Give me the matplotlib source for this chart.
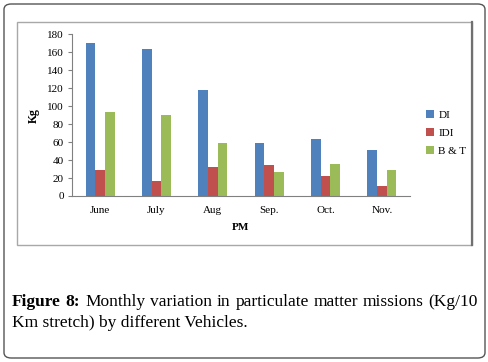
import matplotlib
matplotlib.use("Agg")
import matplotlib.pyplot as plt
from matplotlib.patches import FancyBboxPatch, Rectangle
import numpy as np

months = ["June", "July", "Aug", "Sep.", "Oct.", "Nov."]
DI = [170, 164, 118, 59, 64, 51]
IDI = [29, 17, 32, 35, 22, 11]
BT = [93, 90, 59, 27, 36, 29]
series_names = ["DI", "IDI", "B & T"]
colors = ["#4F81BD", "#C0504D", "#9BBB59"]
yticks = [0, 20, 40, 60, 80, 100, 120, 140, 160, 180]

W, H = 489, 362
fig = plt.figure(figsize=(W/100, H/100), dpi=100)
serif = ["Liberation Serif", "DejaVu Serif"]

# outer rounded frame
fig.patches.append(FancyBboxPatch((4/W, 4/H), (W-8)/W, (H-8)/H,
                                  boxstyle="round,pad=0,rounding_size=0.015",
                                  transform=fig.transFigure, fill=False,
                                  edgecolor="#555555", linewidth=1.0))
# inner chart frame
fig.patches.append(Rectangle((17/W, 1-245/H), (472-17)/W, (245-22)/H,
                             transform=fig.transFigure, fill=False,
                             edgecolor="#A8A8A8", linewidth=1.0))
fig.add_artist(plt.Line2D([472/W, 472/W], [1-245/H, 1-22/H], transform=fig.transFigure,
                          color="#707070", linewidth=1.6))

ax = fig.add_axes([72/W, 1-196/H, (410-72)/W, (196-34.3)/H])
x = np.arange(len(months))
bw = 0.172
for i, (vals, name, c) in enumerate(zip([DI, IDI, BT], series_names, colors)):
    ax.bar(x + (i-1)*bw, vals, width=bw, color=c, label=name)

ax.set_xlim(-0.5, len(months)-0.5)
ax.set_ylim(0, 180)
ax.set_yticks(yticks)
ax.set_xticks(x)
ax.set_xticklabels(months, fontfamily=serif, fontsize=8)
ax.set_yticklabels([str(t) for t in yticks], fontfamily=serif, fontsize=8)
ax.tick_params(axis="x", length=0, pad=7)
ax.tick_params(axis="y", length=3, color="#808080", pad=3)
for s in ["top", "right"]:
    ax.spines[s].set_visible(False)
ax.spines["left"].set_color("#808080")
ax.spines["bottom"].set_color("#808080")
ax.set_ylabel("Kg", fontfamily=serif, fontsize=8.5, fontweight="bold", labelpad=5)
ax.set_xlabel("PM", fontfamily=serif, fontsize=8, fontweight="bold", labelpad=6)

leg = fig.legend(loc="upper left", bbox_to_anchor=(416/W, 1-100/H), frameon=False,
                 prop={"family": serif, "size": 8}, handlelength=0.7, handleheight=0.7,
                 handletextpad=0.4, labelspacing=0.75)

# justified caption line 1
fig.canvas.draw()
renderer = fig.canvas.get_renderer()
cap_size = 12.5
line1 = [("Figure", "bold"), ("8:", "bold"), ("Monthly", "normal"), ("variation", "normal"),
         ("in", "normal"), ("particulate", "normal"), ("matter", "normal"),
         ("missions", "normal"), ("(Kg/10", "normal")]
x0, x1 = 12, 478
texts = []
for w, wt in line1:
    t = fig.text(0, 1-302/H, w, fontfamily=serif, fontsize=cap_size, fontweight=wt,
                 va="center", ha="left")
    texts.append(t)
widths = [t.get_window_extent(renderer).width for t in texts]
gap = (x1 - x0 - sum(widths)) / (len(texts) - 1)
cx = x0
for t, wd in zip(texts, widths):
    t.set_x(cx / W)
    cx += wd + gap
fig.text(x0/W, 1-323/H, "Km stretch) by different Vehicles.",
         fontfamily=serif, fontsize=cap_size, va="center", ha="left")

fig.savefig("out.png", dpi=100)
